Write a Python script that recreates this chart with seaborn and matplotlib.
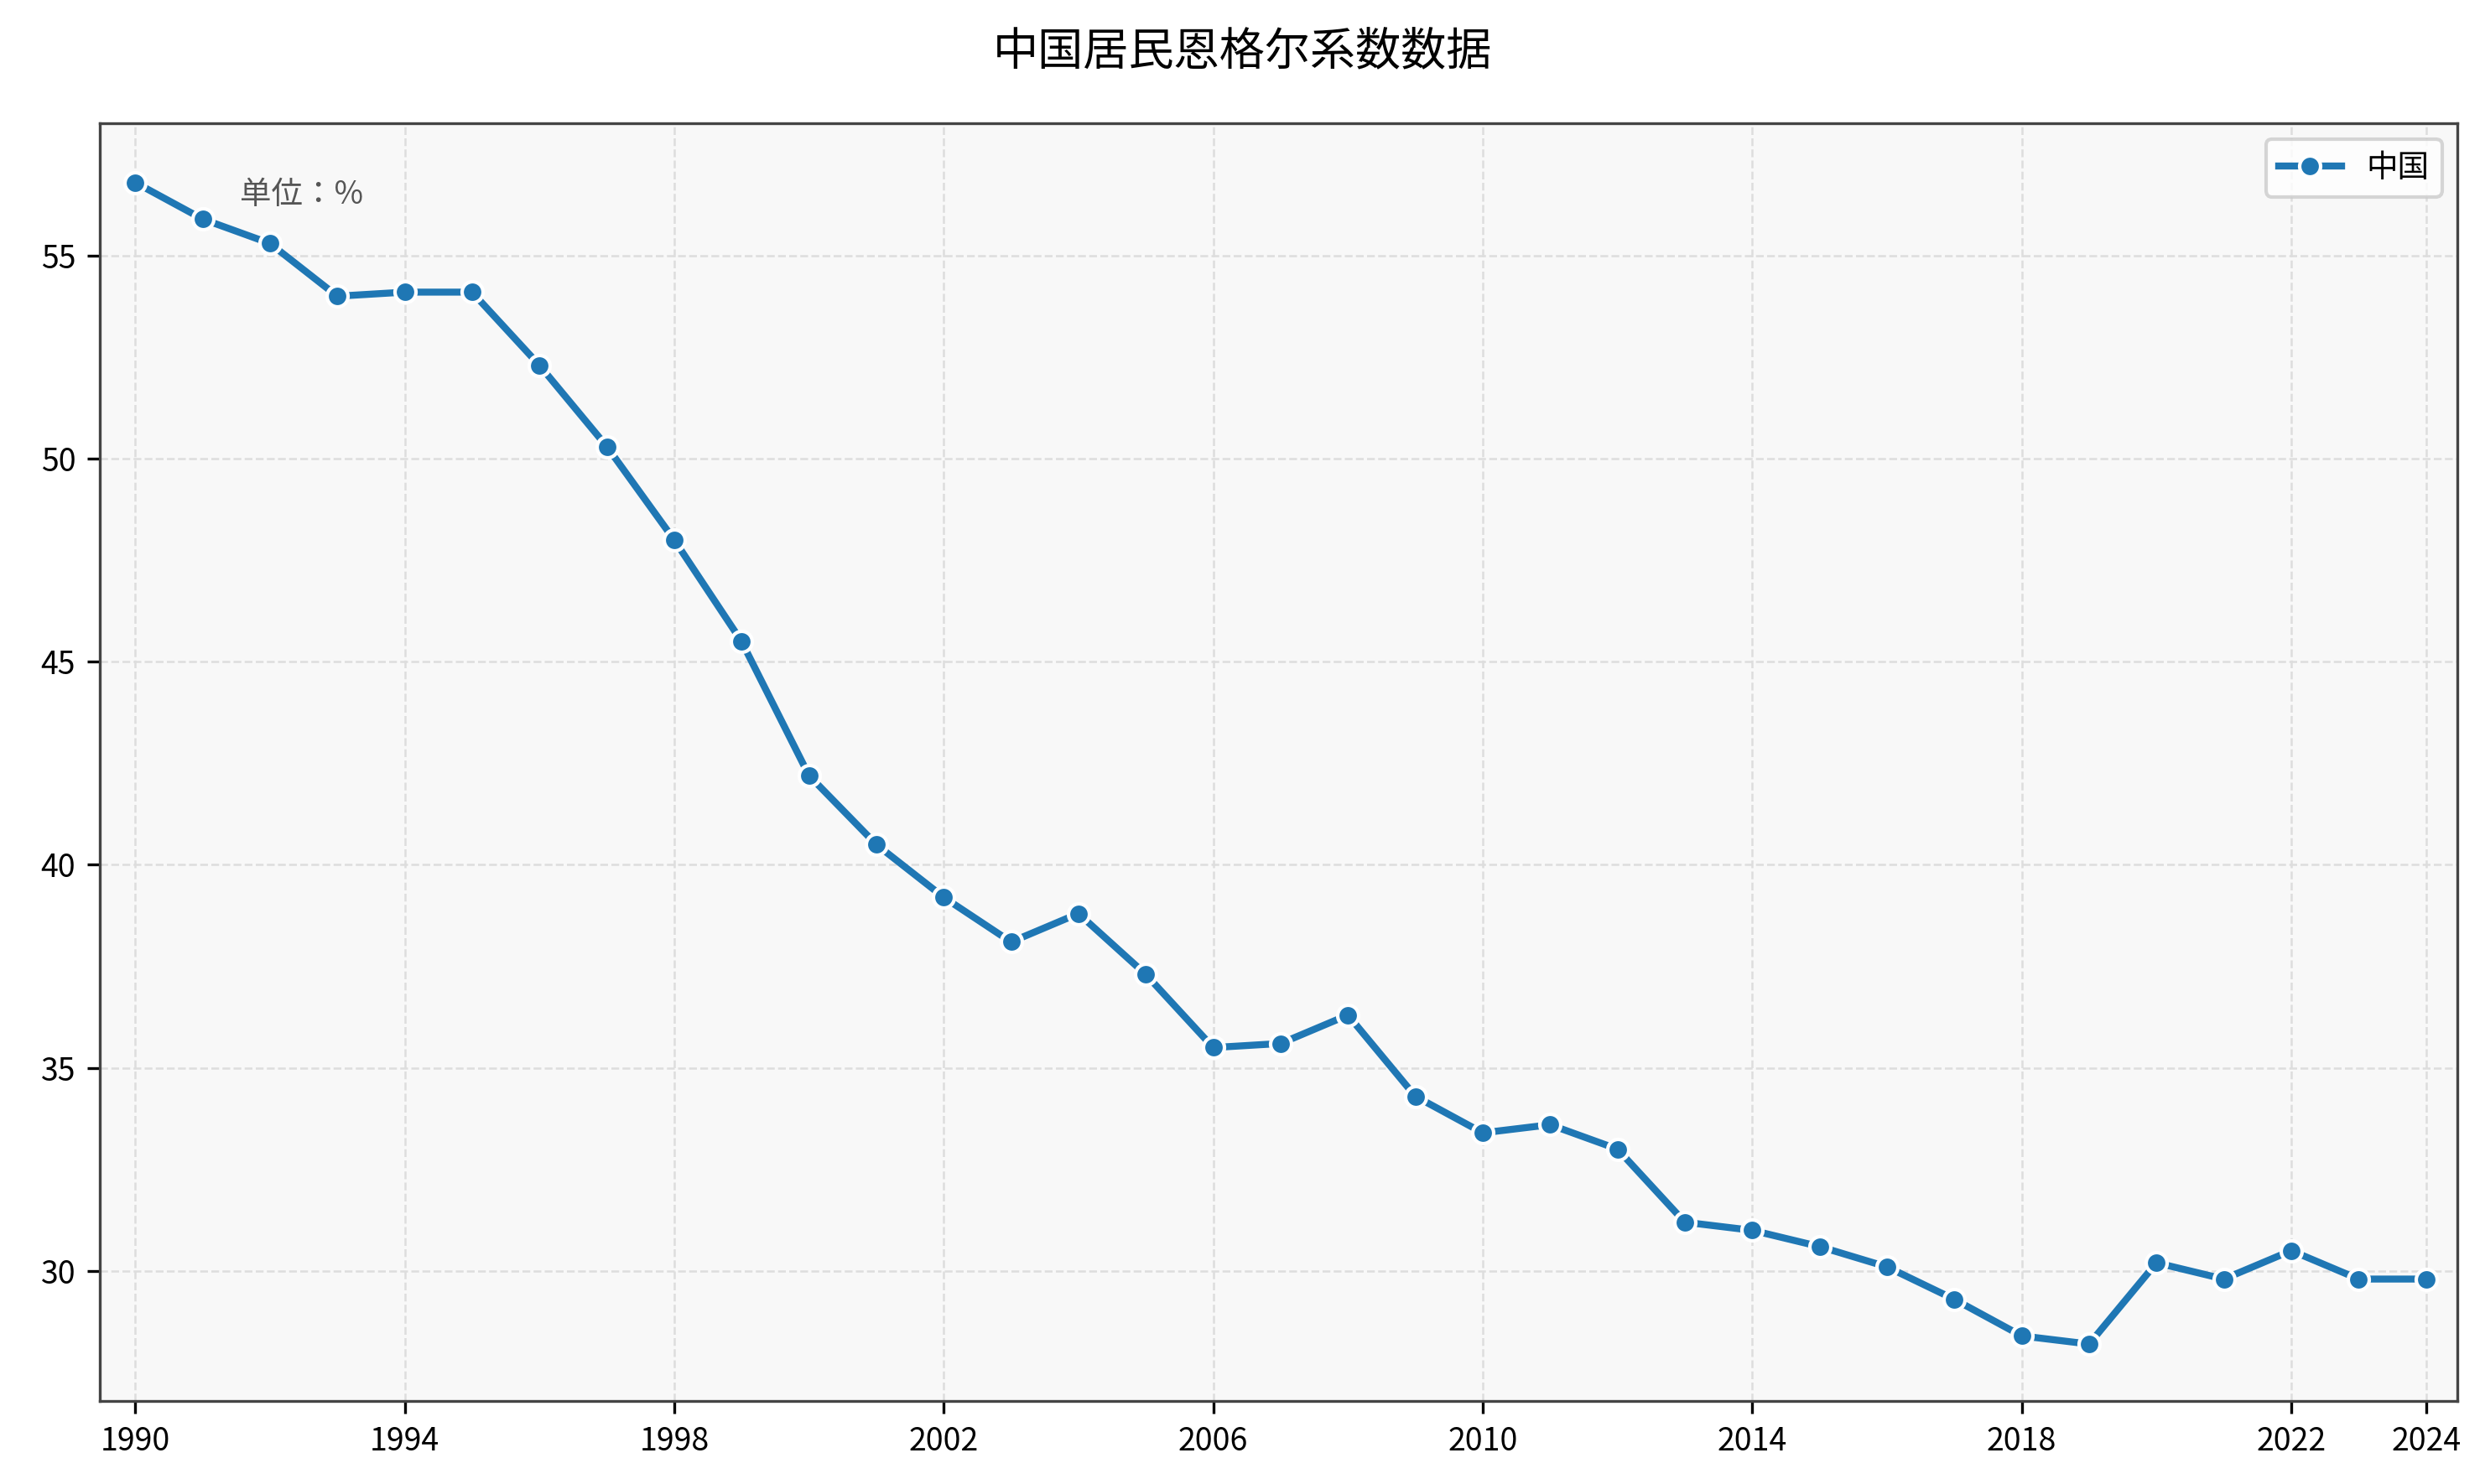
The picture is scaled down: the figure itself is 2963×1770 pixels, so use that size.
import matplotlib
matplotlib.use("Agg")
import matplotlib.pyplot as plt
from matplotlib import font_manager as fm
import seaborn as sns
import pandas as pd

years = list(range(1990, 2025))
values = [56.8, 55.9, 55.3, 54.0, 54.1, 54.1, 52.3, 50.3, 48.0, 45.5,
          42.2, 40.5, 39.2, 38.1, 38.8, 37.3, 35.5, 35.6, 36.3, 34.3,
          33.4, 33.6, 33.0, 31.2, 31.0, 30.6, 30.1, 29.3, 28.4, 28.2,
          30.2, 29.8, 30.5, 29.8, 29.8]
xticks = [1990, 1994, 1998, 2002, 2006, 2010, 2014, 2018, 2022, 2024]
series_name = "中国"

names = sorted({f.name for f in fm.fontManager.ttflist})
cjk = [n for n in names if "CJK SC" in n] or [n for n in names if "CJK" in n]
fam = cjk[0] if cjk else "DejaVu Sans"
plt.rcParams["font.family"] = "sans-serif"
plt.rcParams["font.sans-serif"] = [fam, "DejaVu Sans"]
plt.rcParams["axes.unicode_minus"] = False

df = pd.DataFrame({"year": years, "value": values, "country": series_name})

fig = plt.figure(figsize=(2963/300, 1770/300), dpi=300)
ax = fig.add_axes([0.0403, 0.056, 0.9487, 0.861])
ax.set_facecolor("#f8f8f8")
sns.lineplot(data=df, x="year", y="value", hue="country", palette=["#1f77b4"],
             marker="o", markersize=6, markeredgecolor="white", markeredgewidth=1,
             linewidth=2, ax=ax)
ax.set_xlim(1989.48, 2024.47)
ax.set_ylim(26.8, 58.26)
ax.set_xticks(xticks)
ax.set_yticks([30, 35, 40, 45, 50, 55])
ax.tick_params(labelsize=9)
ax.grid(True, linestyle="--", color="#dddddd", linewidth=0.6)
ax.set_axisbelow(True)
for s in ax.spines.values():
    s.set_color("#444444"); s.set_linewidth(0.8)
ax.set_xlabel(""); ax.set_ylabel("")
ax.text(1991.55, 56.5, "单位：%", fontsize=9, color="#555555", va="center")
leg = ax.legend(loc="upper right", fontsize=9, frameon=True)
leg.get_frame().set_facecolor("white")
fig.suptitle("中国居民恩格尔系数数据", fontsize=13, y=0.98)
fig.savefig("out.png", dpi=300)
